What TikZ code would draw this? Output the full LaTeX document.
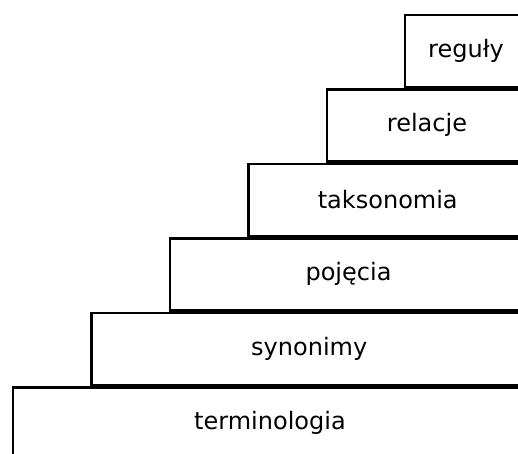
\documentclass[tikz,border=0pt]{standalone}
\usepackage{fontspec}
\setmainfont{DejaVu Sans}
\begin{document}
\begin{tikzpicture}[x=1pt,y=-1pt,
  stepbox/.style={draw=black, line width=2.5pt, fill=white, anchor=north west,
    minimum width=#1, minimum height=72pt, inner sep=0pt, font=\fontsize{24}{28}\selectfont},
]
\useasboundingbox (0,0) rectangle (518,453);
\clip (0,0) rectangle (518,453);
\node[stepbox=514.5pt] (terminologia) at (11.5,386) {terminologia};
\node[stepbox=436pt] (synonimy) at (90,311.5) {synonimy};
\node[stepbox=357.5pt] (pojecia) at (168.5,237) {pojęcia};
\node[stepbox=279pt] (taksonomia) at (247,162.5) {taksonomia};
\node[stepbox=200.5pt] (relacje) at (325.5,88) {relacje};
\node[stepbox=122.5pt] (reguly) at (403.5,13.5) {reguły};
\end{tikzpicture}
\end{document}
